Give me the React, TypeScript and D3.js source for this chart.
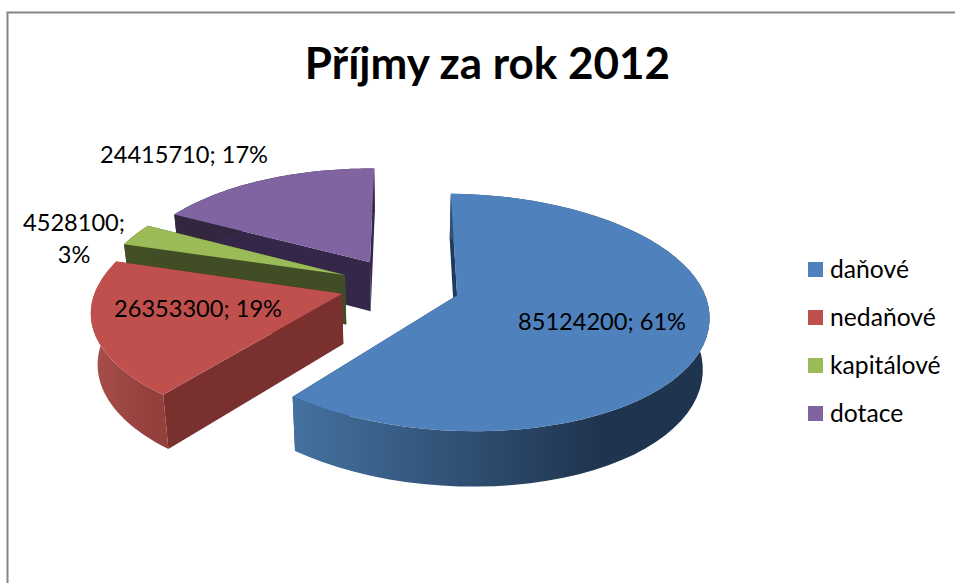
import React from "react";
import * as d3 from "d3";

const categories = ["daňové", "nedaňové", "kapitálové", "dotace"];
const values = [85124200, 26353300, 4528100, 24415710];
const percents = [61, 19, 3, 17];
const faceColors = ["#4f81bd", "#c0504d", "#9bbb59", "#8064a2"];
const wallLeft = ["#44719f", "#a54d49", "#434f24", "#33263f"];
const wallRight = ["#1f344e", "#94403d", "#434f24", "#33263f"];
const radialColors = ["#1f3a5c", "#7a302e", "#414d24", "#35274a"];

const W = 955, H = 583;
const cx = 400, cy = 285.5, Rx = 245, Ry = 113.4, k = 0.144, explode = 0.245;
const startDeg = 1;
const baseDepth = 50, depthSlope = 5, bottomShrink = 0.978, frontSkew = 7, backSkew = 3;

type P = [number, number];
const project = (x: number, y: number, bottom = false): P => {
  const w = 1 + k * y;
  let X = (Rx * x) / w + (y < 0 ? frontSkew * y * y : -backSkew * y);
  let Y = (-Ry * y) / w;
  if (bottom) {
    X *= bottomShrink;
    Y += baseDepth - depthSlope * y;
  }
  return [cx + X, cy + Y];
};

const pie = d3.pie<number>().sort(null)
  .startAngle((startDeg * Math.PI) / 180)
  .endAngle(((startDeg + 360) * Math.PI) / 180);
const arcs = pie(values);
const lineGen = d3.line<P>();

function slicePaths(i: number) {
  const a = arcs[i];
  const bis = (a.startAngle + a.endAngle) / 2;
  const ox = explode * Math.sin(bis), oy = explode * Math.cos(bis);
  const angles = d3.range(0, 61).map((t) => a.startAngle + ((a.endAngle - a.startAngle) * t) / 60);
  const rim = (b: boolean): P[] => angles.map((t) => project(ox + Math.sin(t), oy + Math.cos(t), b));
  const apexT = project(ox, oy, false), apexB = project(ox, oy, true);
  const topRim = rim(false), botRim = rim(true);
  return {
    top: lineGen([apexT, ...topRim])! + "Z",
    wall: lineGen([...topRim, ...botRim.slice().reverse()])! + "Z",
    r1: lineGen([apexT, topRim[0], botRim[0], apexB])! + "Z",
    r2: lineGen([apexT, topRim[60], botRim[60], apexB])! + "Z",
    x0: d3.min(botRim, (p) => p[0])!,
    x1: d3.max(botRim, (p) => p[0])!,
  };
}

const drawOrder = [3, 2, 1, 0];
const font = "Lato, 'Open Sans', sans-serif";
const legendY = d3.scalePoint<string>().domain(categories).range([269.5, 413.5]);
const fmt = (i: number) => `${values[i]}; ${percents[i]}%`;

export default function App() {
  return (
    <svg width={W} height={H} viewBox={`0 0 ${W} ${H}`}
      style={{ position: "absolute", left: 0, top: 0, background: "#fff" }} fontFamily={font}>
      <defs>
        {categories.map((c, i) => {
          const s = slicePaths(i);
          return (
            <linearGradient key={c} id={`wall${i}`} gradientUnits="userSpaceOnUse" x1={s.x0} x2={s.x1} y1={0} y2={0}>
              <stop offset="0" stopColor={wallLeft[i]} />
              <stop offset="0.75" stopColor={wallRight[i]} />
              <stop offset="1" stopColor={wallRight[i]} />
            </linearGradient>
          );
        })}
      </defs>
      <path d="M955 12.5H7.5V583" fill="none" stroke="#868686" strokeWidth={2} />
      {drawOrder.map((i) => {
        const s = slicePaths(i);
        return (
          <g key={i}>
            <path d={s.r1} fill={radialColors[i]} />
            <path d={s.r2} fill={radialColors[i]} />
            <path d={s.wall} fill={`url(#wall${i})`} />
            <path d={s.top} fill={faceColors[i]} />
          </g>
        );
      })}
      <text x={487.5} y={79} textAnchor="middle" fontSize={44} fontWeight={700} fill="#000">Příjmy za rok 2012</text>
      <g fontSize={23.6} fill="#000" textAnchor="middle">
        <text x={602} y={330}>{fmt(0)}</text>
        <text x={198} y={317}>{fmt(1)}</text>
        <text x={74} y={231}>{values[2]};</text>
        <text x={74} y={263}>{percents[2]}%</text>
        <text x={184} y={163}>{fmt(3)}</text>
      </g>
      {categories.map((c, i) => (
        <g key={c}>
          <rect x={808} y={legendY(c)! - 7.5} width={15} height={15} fill={faceColors[i]} />
          <text x={830} y={legendY(c)! + 8} fontSize={24.7} fill="#000">{c}</text>
        </g>
      ))}
    </svg>
  );
}
